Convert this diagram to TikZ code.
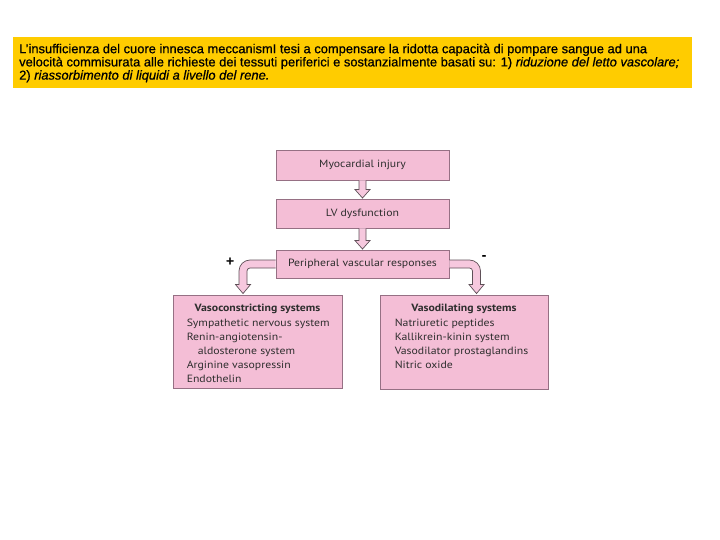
\documentclass[tikz,border=0pt]{standalone}
\usepackage{fontspec}
\setmainfont{Liberation Sans}[FakeBold=0.6]
\newfontfamily\diagfont{PT Sans}[FakeStretch=1.12]
\usetikzlibrary{calc}
\definecolor{titleyellow}{RGB}{255,204,0}
\definecolor{boxpink}{RGB}{244,190,214}
\definecolor{boxline}{RGB}{150,112,132}
\definecolor{arrpink}{RGB}{246,200,222}
\definecolor{arrline}{RGB}{95,80,88}
\begin{document}
\begin{tikzpicture}[x=1pt,y=-1pt,
  box/.style={draw=boxline,line width=0.9pt,fill=boxpink,minimum width=173pt,minimum height=29pt,inner sep=0pt,font=\diagfont\fontsize{10.5}{12}\selectfont,text=black!82},
  listbox/.style={draw=boxline,line width=0.9pt,fill=boxpink,inner sep=0pt},
  hollow/.style={draw=arrline,line width=0.7pt,fill=arrpink,line join=miter},
  listtext/.style={font=\diagfont\fontsize{10.5}{14}\selectfont,text=black!82,align=left,anchor=north west,inner sep=0pt}]
\useasboundingbox (0,0) rectangle (720,540);
% title
\node[fill=titleyellow,minimum width=679pt,minimum height=51pt,anchor=north west,inner sep=0pt] (title) at (13,37) {};
\node[anchor=north west,inner sep=0pt,align=left,font=\fontsize{12.9}{13.2}\selectfont] (ttext) at (19,43.5)
 {L'insufficienza del cuore innesca meccanismI tesi a compensare la ridotta capacità di pompare sangue ad una\\
  velocità commisurata alle richieste dei tessuti periferici e sostanzialmente basati su: 1) \textit{riduzione del letto vascolare;}\\
  2) \textit{riassorbimento di liquidi a livello del rene.}};
% boxes
\node[box,minimum height=30pt] (my) at (362.5,165) {Myocardial injury};
\node[box] (lv) at (362.5,213.5) {LV dysfunction};
\node[box,minimum height=28pt] (pv) at (362.5,264) {Peripheral vascular responses};
\node[listbox,minimum width=169pt,minimum height=93pt] (vc) at (257.5,341.5) {};
\node[listbox,minimum width=168pt,minimum height=94pt] (vd) at (464,342) {};
\node[font=\diagfont\bfseries\fontsize{10.5}{12}\selectfont,text=black!82,inner sep=0pt] (vct) at ($(vc.north)+(0,14)$) {Vasoconstricting systems};
\node[font=\diagfont\bfseries\fontsize{10.5}{12}\selectfont,text=black!82,inner sep=0pt] (vdt) at ($(vd.north)+(0,14)$) {Vasodilating systems};
\node[listtext] (vcl) at ($(vc.north west)+(14,24)$) {Sympathetic nervous system\\Renin-angiotensin-\\\hspace*{11pt}aldosterone system\\Arginine vasopressin\\Endothelin};
\node[listtext] (vdl) at ($(vd.north west)+(15,24)$) {Natriuretic peptides\\Kallikrein-kinin system\\Vasodilator prostaglandins\\Nitric oxide};
% vertical hollow arrows
\foreach \a/\b in {my/lv,lv/pv}{
  \draw[hollow] ($(\a.south)+(-3.5,0)$) -- ($(\b.north)+(-3.5,-9)$) -- ($(\b.north)+(-7.5,-9)$) -- ($(\b.north)+(0,-0.5)$)
   -- ($(\b.north)+(7.5,-9)$) -- ($(\b.north)+(3.5,-9)$) -- ($(\a.south)+(3.5,0)$);
}
% elbow arrows
\coordinate (lb) at (243,264);
\coordinate (rb) at (476.5,264);
\draw[hollow] ($(pv.west)+(0,-4)$) [rounded corners=11pt]-- ($(lb)+(-4,-4)$) [rounded corners=0pt]-- ($(lb|-vc.north)+(-4,-10)$) -- ($(lb|-vc.north)+(-7.5,-10)$) -- ($(lb|-vc.north)+(0,-1)$) -- ($(lb|-vc.north)+(7.5,-10)$) -- ($(lb|-vc.north)+(4,-10)$) [rounded corners=3pt]-- ($(lb)+(4,4)$) [rounded corners=0pt]-- ($(pv.west)+(0,4)$);
\draw[hollow] ($(pv.east)+(0,-4)$) [rounded corners=11pt]-- ($(rb)+(4,-4)$) [rounded corners=0pt]-- ($(rb|-vd.north)+(4,-10)$) -- ($(rb|-vd.north)+(7.5,-10)$) -- ($(rb|-vd.north)+(0,-1)$) -- ($(rb|-vd.north)+(-7.5,-10)$) -- ($(rb|-vd.north)+(-4,-10)$) [rounded corners=3pt]-- ($(rb)+(-4,4)$) [rounded corners=0pt]-- ($(pv.east)+(0,4)$);
\node[font=\bfseries\fontsize{13}{13}\selectfont,inner sep=0pt] (plus) at (230,261.5) {+};
\node[font=\bfseries\fontsize{12}{12}\selectfont,inner sep=0pt] (minus) at (484,257) {-};
\end{tikzpicture}
\end{document}
